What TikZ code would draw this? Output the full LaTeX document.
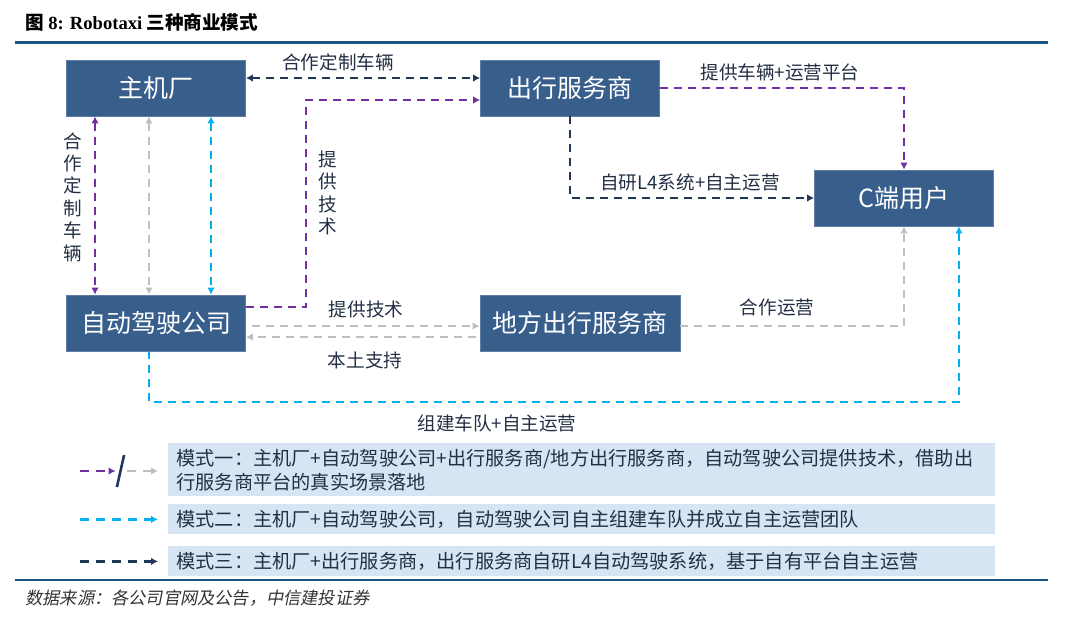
\documentclass[tikz,border=0pt]{standalone}
\usepackage{fontspec}
\setmainfont{Noto Sans CJK SC}
\newfontfamily\titlefont{Liberation Serif}
\newfontfamily\notefont[FakeSlant=0.2]{Noto Sans CJK SC}
\usetikzlibrary{arrows.meta,calc,positioning}
\definecolor{boxblue}{RGB}{56,94,140}
\definecolor{legblue}{RGB}{214,228,243}
\definecolor{navy}{RGB}{31,56,90}
\definecolor{purp}{RGB}{112,48,160}
\definecolor{cyanl}{RGB}{0,176,240}
\definecolor{grayl}{RGB}{191,191,191}
\definecolor{txt}{RGB}{35,48,68}
\definecolor{rulec}{RGB}{28,84,130}

\begin{document}
\begin{tikzpicture}[
        x=0.5pt, y=-0.5pt, % координаты в пикселях
        ent/.style = {fill=boxblue, draw=boxblue!80!white, text=white, minimum width=89.5pt,
            minimum height=28pt, inner sep=0pt, font=\fontsize{12.5}{14}\selectfont}, % Стиль узлов
        lbl/.style = {text=txt, font=\fontsize{9.3}{11}\selectfont, inner sep=1pt},
        vlbl/.style = {lbl, align=center, font=\fontsize{9.3}{11.2}\selectfont},
        flow/.style = {dash pattern=on 4pt off 3pt, line width=1.45pt, -{Latex[length=3.5pt,width=3.8pt]}},
        flow2/.style = {flow, {Latex[length=3.5pt,width=3.8pt]}-{Latex[length=3.5pt,width=3.8pt]}},
        legflow/.style = {flow, dash pattern=on 4.5pt off 3.5pt},
        legbox/.style = {fill=legblue, minimum width=413.5pt, inner sep=0pt, anchor=north west},
        legtxt/.style = {text=txt, font=\fontsize{9.6}{12}\selectfont, align=left, anchor=west, inner sep=0pt},
    ]
    \useasboundingbox (0,0) rectangle (1080,633);

    % заголовок и линейки
    \node[anchor=west, inner sep=0pt] (ttl) at (25,22)
        {\fontsize{9.3}{11}\selectfont\bfseries 图 {\titlefont 8: Robotaxi} 三种商业模式};
    \coordinate (r1) at (15,42);
    \coordinate (r2) at (1048,42);
    \draw[rulec, line width=1.5pt] (r1) -- (r2);
    \coordinate (r3) at (15,580);
    \coordinate (r4) at (1048,580);
    \draw[rulec, line width=1.3pt] (r3) -- (r4);
    \node[anchor=west, inner sep=0pt, text=black!80] (src) at (25,598)
        {\notefont\fontsize{8.6}{10}\selectfont 数据来源：各公司官网及公告，中信建投证券};

    % участники
    \node[ent] (zjc) at (156,88) {主机厂};
    \node[ent] (cxfw) at (570,88) {出行服务商};
    \node[ent] (cuser) at (904,198) {C端用户};
    \node[ent] (zdjs) at (156,323) {自动驾驶公司};
    \node[ent, minimum width=100pt] (dfcx) at (580,323) {地方出行服务商};

    % связи
    \draw[flow2, navy] ([yshift=5pt]zjc.east) -- ([yshift=5pt]cxfw.west);
    \node[lbl] (l1) at (338,62) {合作定制车辆};

    \coordinate (tj) at (306,100);
    \draw[flow, purp] ([yshift=8pt]zdjs.east) -| (tj) -- (tj -| cxfw.west);
    \node[vlbl] (l2) at (328,193) {提\\供\\技\\术};

    \foreach \dx/\col in {-30.5/purp, -3.5/grayl, 27.5/cyanl}
        \draw[flow2, \col] ([xshift=\dx pt]zjc.south) -- ([xshift=\dx pt]zdjs.north);
    \node[vlbl] (l3) at (73,197) {合\\作\\定\\制\\车\\辆};

    \draw[flow, grayl, shorten <=3pt] ([yshift=-1.5pt]zdjs.east) -- ([yshift=-1.5pt]dfcx.west);
    \draw[flow, grayl, shorten <=2pt] ([yshift=-7pt]dfcx.west) -- ([yshift=-7pt]zdjs.east);
    \node[lbl] (l4) at (366,309) {提供技术};
    \node[lbl] (l5) at (365,360) {本土支持};

    \draw[flow, grayl] ([yshift=-1.5pt]dfcx.east) -| (cuser.south);
    \node[lbl] (l6) at (777,307) {合作运营};

    \draw[flow, purp] (cxfw.east) -| (cuser.north);
    \node[lbl] (l7) at (780,72) {提供车辆+运营平台};

    \draw[flow, navy] (cxfw.south) |- (cuser.west);
    \node[lbl] (l8) at (690,182) {自研L4系统+自主运营};

    \coordinate (tc) at (0,402);
    \coordinate (cout) at ([xshift=-3.5pt]zdjs.south);
    \coordinate (cin) at ([xshift=27.5pt]cuser.south);
    \draw[flow, cyanl] (cout) -- (cout |- tc) -| (cin);
    \node[lbl] (l9) at (497,423) {组建车队+自主运营};

    % легенда
    \node[legbox, minimum height=26.5pt] (m1) at (168,443) {};
    \node[legbox, minimum height=15pt] (m2) at (168,504) {};
    \node[legbox, minimum height=15pt] (m3) at (168,546) {};
    \node[legtxt] (t1) at ([xshift=4pt]m1.west)
        {模式一：主机厂+自动驾驶公司+出行服务商/地方出行服务商，自动驾驶公司提供技术，借助出\\行服务商平台的真实场景落地};
    \node[legtxt] (t2) at ([xshift=4pt]m2.west) {模式二：主机厂+自动驾驶公司，自动驾驶公司自主组建车队并成立自主运营团队};
    \node[legtxt] (t3) at ([xshift=4pt]m3.west) {模式三：主机厂+出行服务商，出行服务商自研L4自动驾驶系统，基于自有平台自主运营};

    \coordinate (kx) at (80,0);
    \coordinate (sl) at (120.5,471);
    \draw[legflow, purp] (kx |- sl) -- ([xshift=-2.5pt]sl);
    \draw[navy, line width=1.3pt] ([shift={(-1.8pt,-8pt)}]sl) -- ([shift={(1.8pt,8pt)}]sl);
    \draw[legflow, grayl] ([xshift=3pt]sl) -- ([xshift=-5pt]m1.west |- sl);
    \draw[legflow, cyanl] (kx |- m2.west) -- ([xshift=-5pt]m2.west);
    \draw[legflow, navy] (kx |- m3.west) -- ([xshift=-5pt]m3.west);
\end{tikzpicture}
\end{document}
